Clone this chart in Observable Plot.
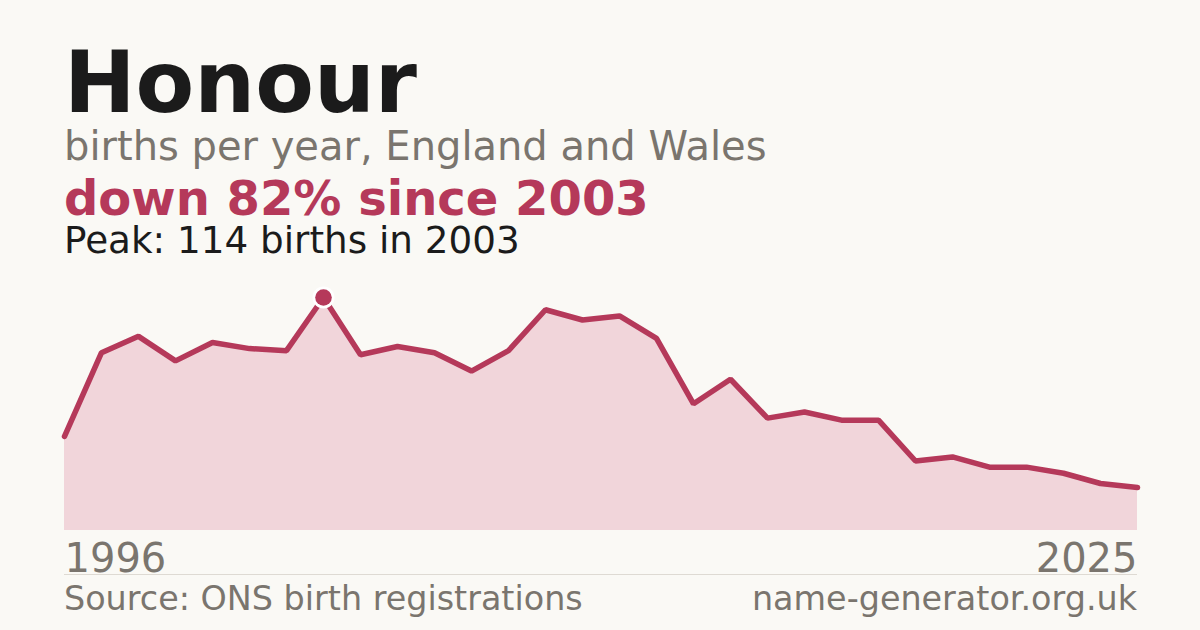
<!DOCTYPE html>
<html><head><meta charset="utf-8">
<script src="https://cdn.jsdelivr.net/npm/d3@7"></script>
<script src="https://cdn.jsdelivr.net/npm/@observablehq/plot@0.6"></script>
<style>
html,body{margin:0;padding:0;background:#faf9f5;}
body{width:1200px;height:630px;position:relative;overflow:hidden;font-family:"DejaVu Sans",sans-serif;}
.t{position:absolute;line-height:0.85;white-space:nowrap;}
.s{line-height:0.75;}
#chart{position:absolute;left:0;top:260px;}
#sep{position:absolute;left:64px;top:574px;width:1073px;height:1px;background:#dedad3;}
</style></head><body>
<div class="t" style="left:64px;top:47px;font-size:85.5px;font-weight:bold;color:#1b1b1b">Honour</div>
<div class="t" style="left:64px;top:129px;font-size:40px;color:#7a756e">births per year, England and Wales</div>
<div class="t s" style="left:64px;top:180px;font-size:48px;font-weight:bold;color:#b5395a">down 82% since 2003</div>
<div class="t s" style="left:64px;top:227px;font-size:37.3px;color:#1b1b1b">Peak: 114 births in 2003</div>
<div id="chart"></div>
<div id="sep"></div>
<div class="t" style="left:64px;top:585px;font-size:33.4px;color:#7a756e">Source: ONS birth registrations</div>
<div class="t" style="right:63px;top:585px;font-size:33.4px;color:#7a756e">name-generator.org.uk</div>
<script>
const years = [1996,1997,1998,1999,2000,2001,2002,2003,2004,2005,2006,2007,2008,2009,2010,2011,2012,2013,2014,2015,2016,2017,2018,2019,2020,2021,2022,2023,2024,2025];
const births = [46,87,95,83,92,89,88,114,86,90,87,78,88,108,103,105,94,62,74,55,58,54,54,34,36,31,31,28,23,21];
const tickYears = [1996, 2025];
const peakYear = 2003;

const data = years.map((y, i) => ({year: y, births: births[i]}));
const peak = data.filter(d => d.year === peakYear);
const lineColor = "#b5395a";
const labelColor = "#7a756e";

const chart = Plot.plot({
  width: 1200,
  height: 320,
  marginLeft: 64,
  marginRight: 63,
  marginTop: 37,
  marginBottom: 50,
  style: {background: "transparent", fontFamily: "DejaVu Sans, sans-serif", overflow: "visible"},
  x: {domain: [years[0], years[years.length - 1]], axis: null},
  y: {domain: [0, d3.max(births)], axis: null},
  marks: [
    Plot.areaY(data, {x: "year", y: "births", fill: "#f1d5da"}),
    Plot.lineY(data, {x: "year", y: "births", stroke: lineColor, strokeWidth: 5.5, strokeLinejoin: "miter"}),
    Plot.dot(peak, {x: "year", y: "births", r: 11, fill: "white"}),
    Plot.dot(peak, {x: "year", y: "births", r: 8.3, fill: lineColor}),
    Plot.text([tickYears[0]], {x: d => d, frameAnchor: "bottom", textAnchor: "start", lineAnchor: "bottom", dy: 41, fontSize: 40, fill: labelColor, text: d => String(d)}),
    Plot.text([tickYears[1]], {x: d => d, frameAnchor: "bottom", textAnchor: "end", lineAnchor: "bottom", dy: 41, fontSize: 40, fill: labelColor, text: d => String(d)})
  ]
});
document.getElementById("chart").appendChild(chart);
</script>
</body></html>
